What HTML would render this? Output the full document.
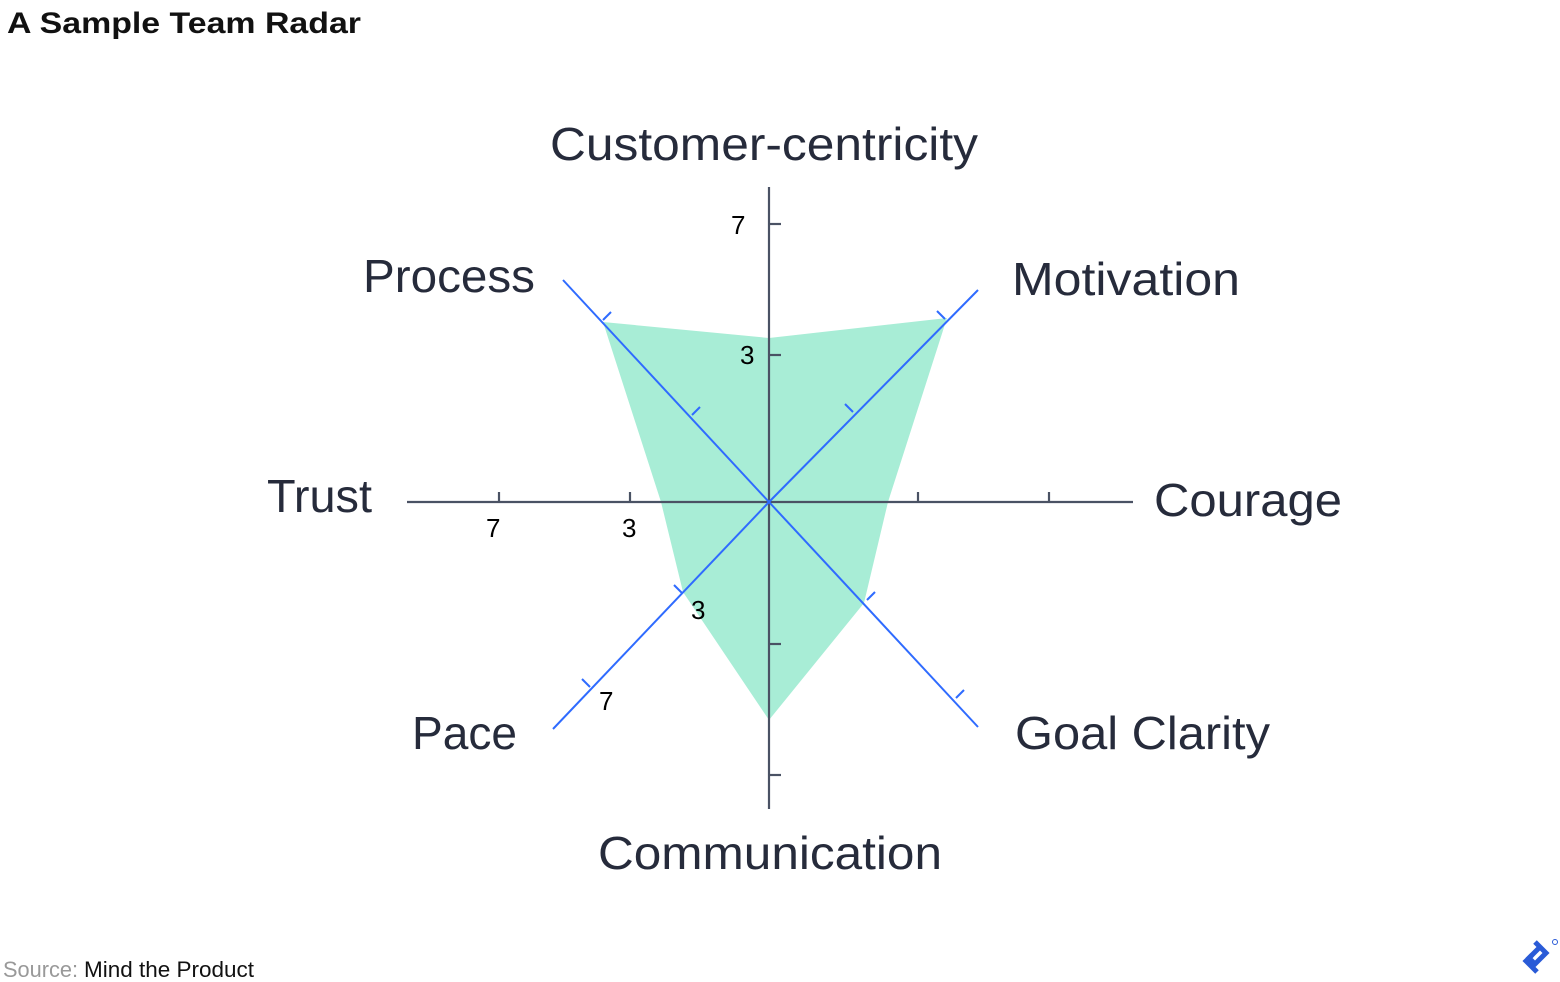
<!DOCTYPE html>
<html><head><meta charset="utf-8"><style>
html,body{margin:0;padding:0;background:#fff;}
svg{display:block;}
</style></head><body>
<svg width="1560" height="982" viewBox="0 0 1560 982" xmlns="http://www.w3.org/2000/svg">
<rect width="1560" height="982" fill="#fff"/>
<text x="7" y="33" font-family="Liberation Sans, sans-serif" font-size="30" font-weight="bold" fill="#111" textLength="354" lengthAdjust="spacingAndGlyphs">A Sample Team Radar</text>

<polygon points="769,338 947,318 888,502 864,603 769,720 683,592 661,502 603,322" fill="#a8edd6"/>

<g stroke="#4a5264" stroke-width="2.2" fill="none">
<line x1="769" y1="187" x2="769" y2="809"/>
<line x1="407" y1="502" x2="1133" y2="502"/>
<line x1="769" y1="224" x2="781" y2="224"/>
<line x1="769" y1="355" x2="781" y2="355"/>
<line x1="769" y1="644" x2="781" y2="644"/>
<line x1="769" y1="775" x2="781" y2="775"/>
<line x1="499" y1="502" x2="499" y2="492"/>
<line x1="630" y1="502" x2="630" y2="492"/>
<line x1="918" y1="502" x2="918" y2="492"/>
<line x1="1049" y1="502" x2="1049" y2="492"/>
</g>

<g stroke="#2f6bff" stroke-width="2" fill="none">
<line x1="563" y1="280" x2="769" y2="502"/>
<line x1="978" y1="290" x2="769" y2="502"/>
<line x1="553" y1="729" x2="769" y2="502"/>
<line x1="978" y1="727" x2="769" y2="502"/>
<line x1="603" y1="320" x2="611" y2="312"/>
<line x1="692" y1="415" x2="700" y2="407"/>
<line x1="945" y1="319" x2="937" y2="311"/>
<line x1="853" y1="412" x2="845" y2="404"/>
<line x1="682" y1="593" x2="674" y2="585"/>
<line x1="590" y1="687" x2="582" y2="679"/>
<line x1="867" y1="600" x2="875" y2="592"/>
<line x1="956" y1="698" x2="964" y2="690"/>
</g>

<g font-family="Liberation Sans, sans-serif" font-size="26" fill="#000">
<text x="731" y="234">7</text>
<text x="740" y="364">3</text>
<text x="486" y="537">7</text>
<text x="622" y="537">3</text>
<text x="691" y="619">3</text>
<text x="599" y="710">7</text>
</g>

<g font-family="Liberation Sans, sans-serif" font-size="46" fill="#262b3b">
<text x="550" y="160" textLength="428" lengthAdjust="spacingAndGlyphs">Customer-centricity</text>
<text x="363" y="292" textLength="172" lengthAdjust="spacingAndGlyphs">Process</text>
<text x="1012" y="295" textLength="228" lengthAdjust="spacingAndGlyphs">Motivation</text>
<text x="267" y="512" textLength="105" lengthAdjust="spacingAndGlyphs">Trust</text>
<text x="1154" y="516" textLength="188" lengthAdjust="spacingAndGlyphs">Courage</text>
<text x="412" y="749" textLength="105" lengthAdjust="spacingAndGlyphs">Pace</text>
<text x="1015" y="749" textLength="255" lengthAdjust="spacingAndGlyphs">Goal Clarity</text>
<text x="598" y="869" textLength="344" lengthAdjust="spacingAndGlyphs">Communication</text>
</g>

<text x="3" y="977" font-family="Liberation Sans, sans-serif" font-size="22" fill="#999" textLength="75" lengthAdjust="spacingAndGlyphs">Source:</text>
<text x="84" y="977" font-family="Liberation Sans, sans-serif" font-size="22" fill="#111" textLength="170" lengthAdjust="spacingAndGlyphs">Mind the Product</text>

<g fill="none" stroke="#2a5bd7" stroke-width="5" stroke-linejoin="miter">
<path d="M1535,942 L1546,953 L1535,964 L1529,958 L1540,947"/>
<path d="M1532,955 L1526,961 L1537,972"/>
</g>
<circle cx="1555" cy="942" r="2.5" fill="none" stroke="#2a5bd7" stroke-width="1"/>
</svg>
</body></html>
